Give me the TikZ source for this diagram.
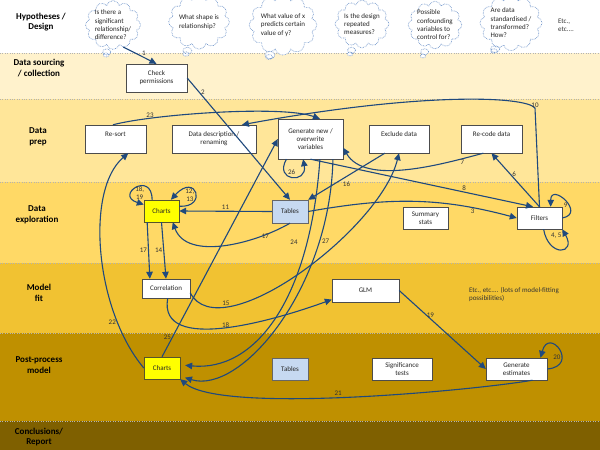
\documentclass[tikz,border=0pt]{standalone}
\usepackage{fontspec}
\setmainfont{Carlito}
\usetikzlibrary{arrows.meta,shapes.callouts,shapes.symbols}
\definecolor{cnblue}{RGB}{31,73,125}
\definecolor{cloudline}{RGB}{120,155,205}
\definecolor{bandA}{RGB}{255,242,204}
\definecolor{bandB}{RGB}{255,230,153}
\definecolor{bandC}{RGB}{255,217,102}
\definecolor{bandD}{RGB}{241,194,50}
\definecolor{bandE}{RGB}{191,144,0}
\definecolor{bandF}{RGB}{127,96,0}
\definecolor{chartyel}{RGB}{255,255,0}
\definecolor{tabblue}{RGB}{198,217,241}
\begin{document}
\begin{tikzpicture}[x=1pt, y=-1pt,
  band/.style={draw=gray!60, dotted},
  stage/.style={font=\fontsize{9}{10.5}\selectfont\bfseries, align=center},
  box/.style={draw=black!70, fill=white, minimum width=61pt, minimum height=28pt,
    inner sep=1pt, align=center, text=black!85, font=\fontsize{7}{8}\selectfont},
  highbox/.style={box, text depth=9pt},
  chartbox/.style={box, fill=chartyel, draw=black!50!olive, minimum width=36pt, minimum height=22pt},
  tablebox/.style={box, fill=tabblue, draw=black!60, minimum width=36pt, minimum height=23pt},
  thought/.style={cloud callout, draw=cloudline, line width=0.7pt, dash pattern=on 0.7pt off 0.9pt,
    fill=white, cloud puffs=12, aspect=1.2, inner sep=-1pt, align=left, text=black!85,
    font=\fontsize{7}{8.3}\selectfont},
  cn/.style={draw=cnblue, line width=1.1pt, -{Triangle[length=7pt,width=6.5pt]}},
  lbl/.style={font=\fontsize{7}{8}\selectfont, text=black!80, inner sep=1pt, align=center}]
  \useasboundingbox (0,0) rectangle (600,450);
  % stages
  \fill[bandA] (0,53) rectangle (600,99);
  \fill[bandB] (0,99) rectangle (600,182);
  \fill[bandC] (0,182) rectangle (600,263);
  \fill[bandD] (0,263) rectangle (600,333);
  \fill[bandE] (0,333) rectangle (600,421);
  \fill[bandF] (0,421) rectangle (600,450);
  \foreach \y in {53,99,182,263,333,421}
    \draw[band] (0,\y) -- (600,\y);
  \node[stage] (sHyp) at (41,22) {Hypotheses /\\Design};
  \node[stage] (sSrc) at (39,68) {Data sourcing\\/ collection};
  \node[stage] (sPrep) at (38,137) {Data\\prep};
  \node[stage] (sExp) at (37,215) {Data\\exploration};
  \node[stage] (sFit) at (39,293) {Model\\fit};
  \node[stage] (sPost) at (39,365) {Post-process\\model};
  \node[stage] (sRep) at (39,437) {Conclusions/\\Report};
  % questions
  \node[thought, callout absolute pointer={(106,55)}] (q1) at (113,25) {Is there a\\significant\\relationship/\\difference?};
  \node[thought, callout absolute pointer={(186,54)}] (q2) at (199,22) {What shape is\\relationship?};
  \node[thought, callout absolute pointer={(269,57)}] (q3) at (283,25) {What value of x\\predicts certain\\value of y?};
  \node[thought, callout absolute pointer={(350,54)}] (q4) at (362,24) {Is the design\\repeated\\measures?};
  \node[thought, callout absolute pointer={(423,56)}] (q5) at (435,25) {Possible\\confounding\\variables to\\control for?};
  \node[thought, callout absolute pointer={(494,51)}] (q6) at (511,23) {Are data\\standardised /\\transformed?\\How?};
  \node[lbl, align=left] (etc) at (566,25) {Etc.,\\etc....};
  % steps
  \node[box] (chk) at (156.5,78) {Check\\permissions};
  \node[highbox] (re) at (115.5,139) {Re-sort};
  \node[box, minimum width=84pt] (dd) at (214,139) {Data description /\\renaming};
  \node[box, minimum width=65pt, minimum height=40pt] (gen) at (310.5,139) {Generate new /\\overwrite\\variables};
  \node[highbox, minimum width=60pt] (exc) at (399,139) {Exclude data};
  \node[highbox] (rec) at (491.5,139) {Re-code data};
  \node[chartbox, minimum width=35pt] (ch1) at (161.5,211) {Charts};
  \node[tablebox] (tab1) at (290,211.5) {Tables};
  \node[box, minimum width=45pt, minimum height=22pt] (sum) at (425.5,218) {Summary\\stats};
  \node[box, minimum width=45pt, minimum height=22pt] (fil) at (539.5,218) {Filters};
  \node[box, minimum width=48pt, minimum height=19pt] (cor) at (166,288.5) {Correlation};
  \node[box, minimum width=67pt, minimum height=23pt] (glm) at (365.5,290.5) {GLM};
  \node[lbl, align=left] (more) at (514,295) {Etc., etc.... (lots of model-fitting\\possibilities)};
  \node[chartbox] (ch2) at (162,368) {Charts};
  \node[tablebox, minimum height=22pt] (tab2) at (290,369) {Tables};
  \node[box, minimum width=60pt, minimum height=22pt] (sig) at (402,369) {Significance\\tests};
  \node[box, minimum height=22pt] (est) at (516.5,369) {Generate\\estimates};
  % flow
  \draw[cn] (q1.-65) -- node[lbl, pos=.55, above right=-1pt] {1} (chk.north);
  \draw[cn] (chk.east) -- node[lbl, pos=.12, right] {2} (tab1.north);
  \draw[cn] (tab1.east) to[out=10, in=165] node[lbl, pos=.8, below] {3} (fil.west);
  \draw[cn] (fil.-70) to[out=-80, in=-60, looseness=4] node[lbl, pos=.5, above=9pt, xshift=-4pt] {4, 5} (fil.south east);
  \draw[cn] (fil.north) -- node[lbl, pos=.6, right] {6} (rec.south);
  \draw[cn] (rec.-120) to[out=-165, in=-60, looseness=.8] node[lbl, pos=.15, below] {7} (gen.-15);
  \draw[cn] (gen.south) -- node[lbl, pos=.69, above] {8} (fil.120);
  \draw[cn] (fil.east) to[out=10, in=90, looseness=4] node[lbl, pos=.5, below] {9} (fil.45);
  \draw[cn] (fil.north) -- (535,108) node[lbl, above=-1pt] {10} .. controls (525,96) and (420,92) .. (dd.27);
  \draw[cn] (tab1.west) -- node[lbl, above] {11} (ch1.east);
  \draw[cn] (ch1.15) .. controls (208,208) and (196,172) .. (ch1.50) node[lbl, pos=.45, left=0pt] {12,\\13};
  \draw[cn] (ch1.south) -- node[lbl, left] {14} (cor.north);
  \draw[cn] (cor.-10) .. controls (220,350) and (380,230) .. (exc.south) node[lbl, pos=.22, above] {15};
  \draw[cn] (exc.-135) -- node[lbl, pos=.5, below=4pt] {16} (tab1.north east);
  \draw[cn] (ch1.-142) -- node[lbl, left] {17} (cor.149);
  \draw[cn] (tab1.south) to[out=-150, in=-70, looseness=.9] node[lbl, pos=.2, below=-2pt] {17} (ch1.-45);
  \draw[cn] (ch1.130) .. controls (152,170) and (114,195) .. (ch1.160) node[lbl, pos=.5, below=-2pt, xshift=3pt] {18,\\19};
  \draw[cn] (cor.-80) to[out=-100, in=-160, looseness=.9] node[lbl, pos=.5, above=-1pt] {18} (glm.-165);
  \draw[cn] (glm.east) -- node[lbl, pos=.36, above] {19} (est.west);
  \draw[cn] (est.east) to[out=5, in=75, looseness=6.5] node[lbl, pos=.35, left] {20} (est.25);
  \draw[cn] (est.-35) to[out=-170, in=-40, looseness=.4] node[lbl, pos=.53, above] {21} (ch2.south east);
  \draw[cn] (ch2.west) .. controls (95,310) and (85,190) .. (re.-48) node[lbl, pos=.22, left] {22};
  \draw[cn] (re.100) to[out=15, in=160, looseness=.5] node[lbl, pos=.22, above=-1pt] {23} (gen.65);
  \draw[cn, shorten >=5pt] (gen.-65) .. controls (310,300) and (255,372) .. (ch2.10) node[lbl, pos=.22, left=8pt] {24};
  \draw[cn] (ch2.north) -- node[lbl, pos=.09, left] {25} (gen.west);
  \draw[cn] (gen.-140) to[out=-120, in=-80, looseness=3.9] node[lbl, pos=.5, above=1pt] {26} (gen.-110);
  \draw[cn, shorten >=5pt] (gen.-42) .. controls (330,290) and (240,395) .. (ch2.-24) node[lbl, pos=.22, right=1pt] {27};
\end{tikzpicture}
\end{document}
